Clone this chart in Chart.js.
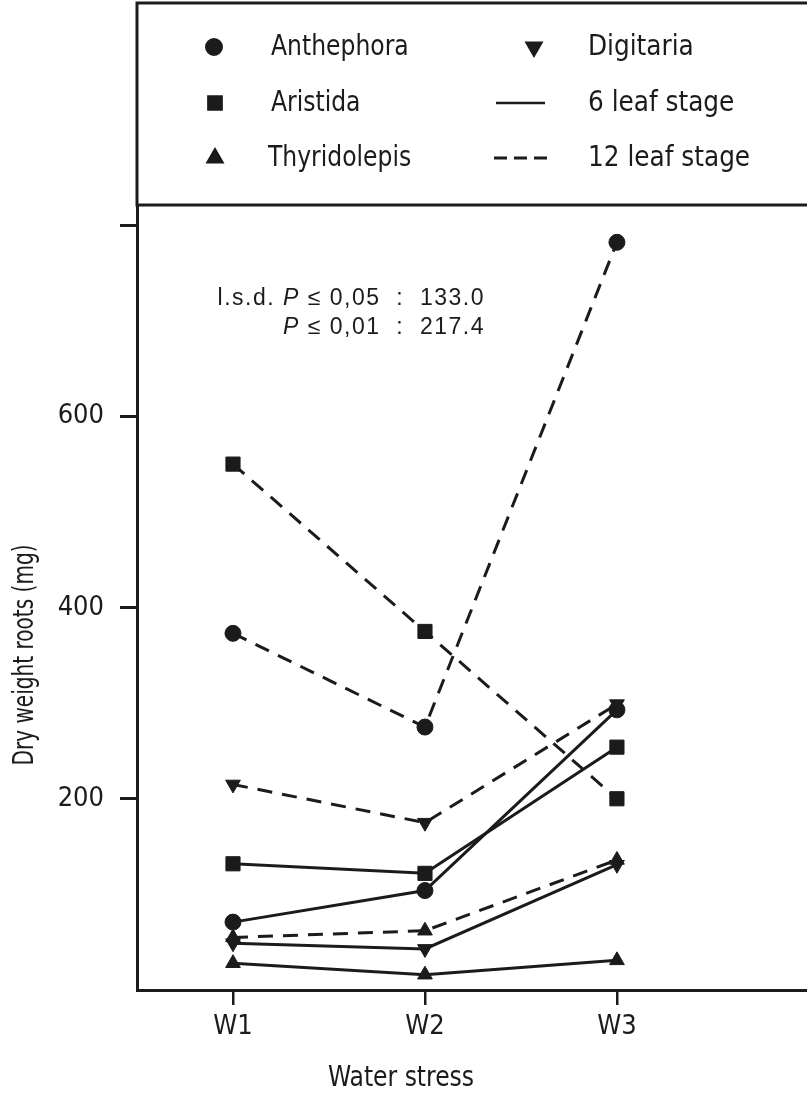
<!DOCTYPE html>
<html>
<head>
<meta charset="utf-8">
<script src="https://cdn.jsdelivr.net/npm/chart.js@4.4.0/dist/chart.umd.min.js"></script>
<style>
  html, body { margin: 0; padding: 0; background: #fff; overflow: hidden; }
  #wrap { width: 807px; height: 1094px; position: relative; }
</style>
</head>
<body>
<div id="wrap"><canvas id="rootChart"></canvas></div>
<script>
// categories on the x axis (placed at 1, 2, 3 on a linear scale)
const categories = ['W1', 'W2', 'W3'];
const xSlots = [1, 2, 3];
const yTicks = [200, 400, 600, 800];

// dry weight roots (mg)
const anthephora6 = [71, 104, 293];
const anthephora12 = [373, 275, 782];
const aristida6 = [132, 122, 254];
const aristida12 = [550, 375, 200];
const thyridolepis6 = [28, 16, 31];
const thyridolepis12 = [55, 62, 136];
const digitaria6 = [49, 43, 131];
const digitaria12 = [215, 175, 299];

const INK = '#1b1b1b';
const COND = '"Liberation Sans Narrow", "DejaVu Sans Condensed", "Roboto Condensed", sans-serif';
const DASH = [15, 10];

const toPts = vals => vals.map((v, i) => ({ x: xSlots[i], y: v }));

function series(label, vals, shape, dashed, size, rot) {
    return {
        label: label,
        data: toPts(vals),
        borderColor: INK,
        backgroundColor: INK,
        borderWidth: 3,
        borderDash: dashed ? DASH : [],
        pointStyle: shape,
        pointRadius: size,
        pointRotation: rot || 0,
        pointBorderWidth: 1,
        pointBackgroundColor: INK,
        pointBorderColor: INK,
        tension: 0,
        fill: false,
        clip: false
    };
}

const datasets = [
    series('Anthephora 12', anthephora12, 'circle', true, 8),
    series('Aristida 12', aristida12, 'rect', true, 10),
    series('Digitaria 12', digitaria12, 'triangle', true, 8.5, 180),
    series('Thyridolepis 12', thyridolepis12, 'triangle', true, 8.5),
    series('Anthephora 6', anthephora6, 'circle', false, 8),
    series('Aristida 6', aristida6, 'rect', false, 10),
    series('Digitaria 6', digitaria6, 'triangle', false, 8.5, 180),
    series('Thyridolepis 6', thyridolepis6, 'triangle', false, 8.5)
];

// condensed text: squeeze along the text direction
function squeezedText(ctx, txt, x, y, sx, align) {
    ctx.save();
    ctx.translate(x, y);
    ctx.scale(sx, 1);
    ctx.textAlign = align || 'left';
    ctx.fillText(txt, 0, 0);
    ctx.restore();
}

// legend box, l.s.d. note and axis titles
const figureDecor = {
    id: 'figureDecor',
    afterDraw(chart) {
        const ctx = chart.ctx;
        const a = chart.chartArea;
        ctx.save();
        ctx.strokeStyle = INK;
        ctx.fillStyle = INK;

        // legend frame
        ctx.lineWidth = 3;
        ctx.strokeRect(a.left, 3, 720, a.top - 3);

        const drawMark = (shape, x, y, r, rot) => {
            Chart.helpers.drawPoint(ctx, { pointStyle: shape, radius: r, rotation: rot || 0, borderWidth: 1 }, x, y);
            ctx.fill();
        };
        ctx.font = '29px ' + COND;
        ctx.textBaseline = 'middle';

        const rows = [47, 103, 158];
        drawMark('circle', 214, rows[0], 7.5);
        squeezedText(ctx, 'Anthephora', 271, rows[0], 0.9);
        drawMark('rect', 215, rows[1], 9);
        squeezedText(ctx, 'Aristida', 271, rows[1], 0.9);
        drawMark('triangle', 215, rows[2], 8);
        squeezedText(ctx, 'Thyridolepis', 268, rows[2], 0.9);

        drawMark('triangle', 534, rows[0], 8, 180);
        squeezedText(ctx, 'Digitaria', 588, rows[0], 0.95);
        ctx.lineWidth = 2.5;
        ctx.beginPath();
        ctx.moveTo(496, rows[1]); ctx.lineTo(545, rows[1]);
        ctx.stroke();
        squeezedText(ctx, '6 leaf stage', 588, rows[1], 0.95);
        ctx.setLineDash([13, 7]);
        ctx.lineWidth = 3;
        ctx.beginPath();
        ctx.moveTo(494, rows[2]); ctx.lineTo(547, rows[2]);
        ctx.stroke();
        ctx.setLineDash([]);
        squeezedText(ctx, '12 leaf stage', 588, rows[2], 0.95);

        // l.s.d. note, right aligned
        const plain = '23px "Liberation Sans", Arial, sans-serif';
        const ital = 'italic 23px "Liberation Sans", Arial, sans-serif';
        const noteRight = a.left + 348;
        ctx.letterSpacing = '1.5px';
        const writeLine = (parts, y) => {
            let w = 0;
            parts.forEach(p => { ctx.font = p[1]; w += ctx.measureText(p[0]).width; });
            let x = noteRight - w;
            parts.forEach(p => {
                ctx.font = p[1];
                ctx.fillText(p[0], x, y);
                x += ctx.measureText(p[0]).width;
            });
        };
        ctx.textAlign = 'left';
        writeLine([['l.s.d. ', plain], ['P', ital], [' \u2264 0,05  :  133.0', plain]], a.top + 94);
        writeLine([['P', ital], [' \u2264 0,01  :  217.4', plain]], a.top + 123);
        ctx.letterSpacing = '0px';

        // axis titles
        ctx.font = '29px ' + COND;
        squeezedText(ctx, 'Water stress', 401, 1078, 0.9, 'center');
        ctx.translate(25, 655);
        ctx.rotate(-Math.PI / 2);
        squeezedText(ctx, 'Dry weight roots (mg)', 0, 0, 0.77, 'center');
        ctx.restore();
    }
};

new Chart(document.getElementById('rootChart'), {
    type: 'line',
    data: { datasets: datasets },
    options: {
        responsive: true,
        maintainAspectRatio: false,
        animation: false,
        layout: { autoPadding: false, padding: { top: 205, left: 0, right: 0, bottom: 0 } },
        plugins: {
            legend: { display: false },
            tooltip: { enabled: false }
        },
        scales: {
            x: {
                type: 'linear',
                min: 0.5,
                max: 3.99,
                afterBuildTicks: s => { s.ticks = xSlots.map(v => ({ value: v })); },
                afterFit: s => { s.height = 104; s.paddingLeft = 0; s.paddingRight = 0; },
                ticks: {
                    callback: v => categories[xSlots.indexOf(v)] || '',
                    color: INK,
                    padding: 6,
                    maxRotation: 0,
                    font: { family: COND, size: 27 }
                },
                grid: { drawOnChartArea: false, color: INK, lineWidth: 2.5, tickLength: 15 },
                border: { color: INK, width: 3 }
            },
            y: {
                min: 0,
                max: 821,
                afterBuildTicks: s => { s.ticks = yTicks.map(v => ({ value: v })); },
                afterFit: s => { s.width = 137; s.paddingTop = 0; s.paddingBottom = 0; },
                ticks: {
                    callback: v => (v === 800 ? '' : v),
                    color: INK,
                    padding: 16,
                    font: { family: COND, size: 27 }
                },
                grid: { drawOnChartArea: false, color: INK, lineWidth: 3, tickLength: 17 },
                border: { color: INK, width: 3 }
            }
        }
    },
    plugins: [figureDecor]
});
</script>
</body>
</html>
